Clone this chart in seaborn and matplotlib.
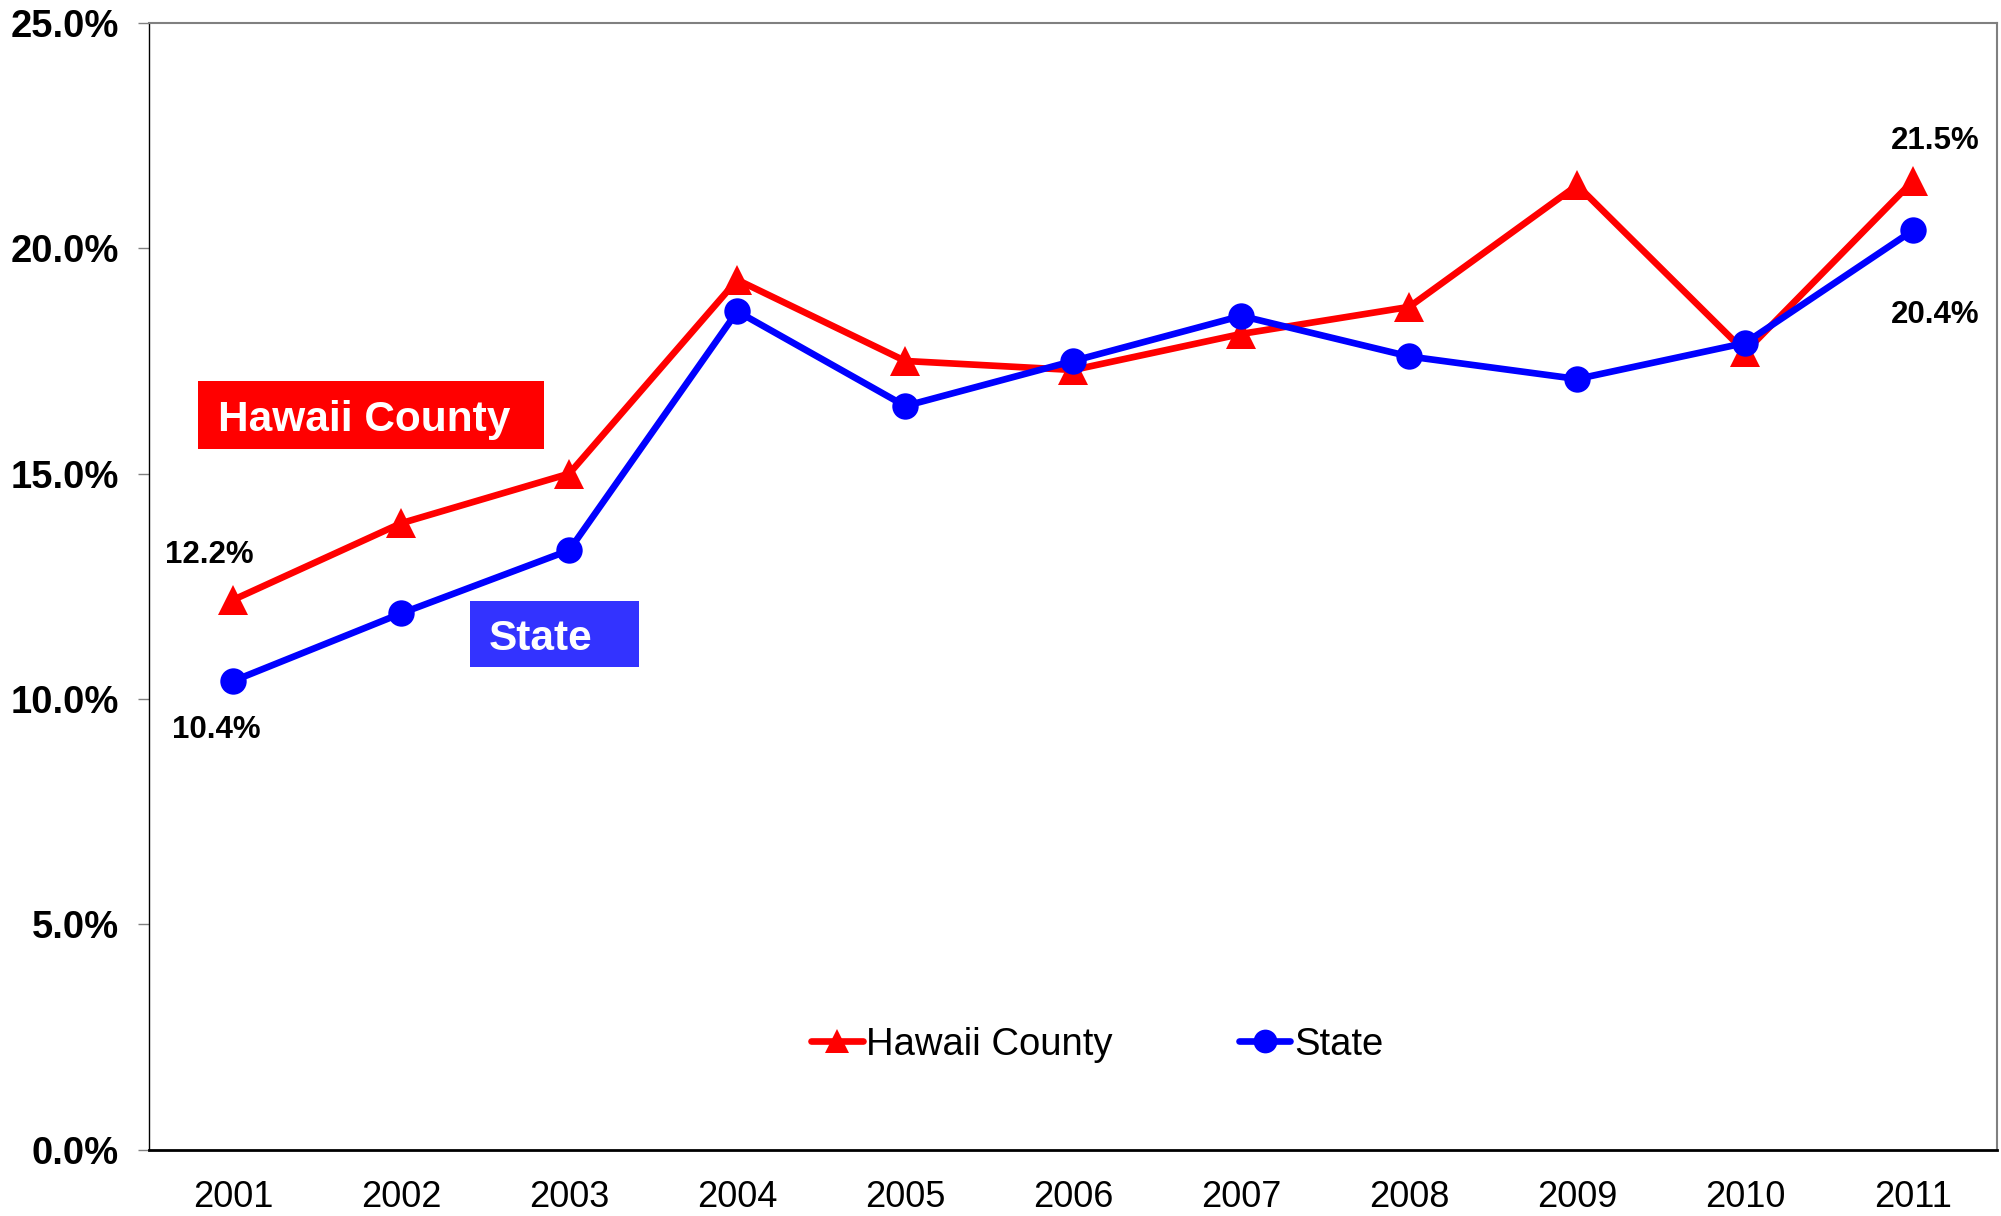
import pandas as pd
import numpy as np
import matplotlib
matplotlib.use('Agg')
import matplotlib.pyplot as plt
import seaborn as sns
from matplotlib.patches import Rectangle

# Chart data (percent)
years = [2001, 2002, 2003, 2004, 2005, 2006, 2007, 2008, 2009, 2010, 2011]
hawaii_county = [12.2, 13.9, 15.0, 19.3, 17.5, 17.3, 18.1, 18.7, 21.4, 17.7, 21.5]
state = [10.4, 11.9, 13.3, 18.6, 16.5, 17.5, 18.5, 17.6, 17.1, 17.9, 20.4]
series_names = ['Hawaii County', 'State']
y_ticks = [0, 5, 10, 15, 20, 25]
y_tick_labels = ['0.0%', '5.0%', '10.0%', '15.0%', '20.0%', '25.0%']

df = pd.DataFrame({
    'year': years * 2,
    'value': hawaii_county + state,
    'series': [series_names[0]] * len(years) + [series_names[1]] * len(years),
})

sns.set_style('white')
plt.rcParams['font.family'] = ['Liberation Sans', 'DejaVu Sans']
plt.rcParams['text.color'] = 'black'
plt.rcParams['xtick.labelcolor'] = 'black'
plt.rcParams['ytick.labelcolor'] = 'black'

fig = plt.figure(figsize=(20.01, 12.16), dpi=100)
ax = fig.add_axes([0.0746, 0.0546, 0.9235, 0.9265])

palette = {'Hawaii County': '#FF0000', 'State': '#0000FF'}
markers = {'Hawaii County': '^', 'State': 'o'}
sns.lineplot(data=df, x='year', y='value', hue='series', style='series',
             hue_order=series_names, style_order=series_names,
             palette=palette, markers=markers, dashes=False,
             linewidth=4.8, markersize=19, markeredgewidth=0, ax=ax)
# triangles a bit bigger than circles
ax.lines[0].set_markersize(21)

ax.set_xlim(2000.5, 2011.5)
ax.set_ylim(0, 25)
ax.set_xlabel('')
ax.set_ylabel('')

# axis ticks
ax.set_xticks(years)
ax.set_xticklabels([str(y) for y in years], fontsize=26)
ax.set_xticks(np.arange(2000.5, 2012, 1), minor=True)
ax.tick_params(axis='x', which='major', length=0, pad=22)
ax.tick_params(axis='x', which='minor', length=9, width=1, color='#808080', direction='out')
ax.set_yticks(y_ticks)
ax.set_yticklabels(y_tick_labels, fontsize=27.5, fontweight='bold')
ax.tick_params(axis='y', length=8, width=1, color='#808080', direction='out', pad=14, left=True)

for side in ['top', 'right']:
    ax.spines[side].set_color('#808080')
    ax.spines[side].set_linewidth(1.5)
ax.spines['left'].set_color('black')
ax.spines['left'].set_linewidth(1)
ax.spines['bottom'].set_color('black')
ax.spines['bottom'].set_linewidth(2)

# end labels
label_style = dict(textcoords='offset points', ha='center', va='center',
                   fontsize=22.5, fontweight='bold', color='black')
ax.annotate(f'{hawaii_county[0]:.1f}%', (years[0], hawaii_county[0]), xytext=(-17, 32), **label_style)
ax.annotate(f'{state[0]:.1f}%', (years[0], state[0]), xytext=(-12, -35), **label_style)
ax.annotate(f'{hawaii_county[-1]:.1f}%', (years[-1], hawaii_county[-1]), xytext=(16, 28.5), **label_style)
ax.annotate(f'{state[-1]:.1f}%', (years[-1], state[-1]), xytext=(16, -61), **label_style)

# series name boxes
ax.add_patch(Rectangle((0.0262, 0.6217), 0.1872, 0.0601, transform=ax.transAxes,
                       facecolor='#FF0000', edgecolor='none', zorder=5))
ax.text(0.0373, 0.6475, 'Hawaii County', transform=ax.transAxes, color='white',
        fontsize=30.5, fontweight='bold', ha='left', va='center', zorder=6)
ax.add_patch(Rectangle((0.1733, 0.428), 0.0919, 0.059, transform=ax.transAxes,
                       facecolor='#3333FF', edgecolor='none', zorder=5))
ax.text(0.1837, 0.4535, 'State', transform=ax.transAxes, color='white',
        fontsize=30.5, fontweight='bold', ha='left', va='center', zorder=6)

# legend
handles, labels = ax.get_legend_handles_labels()
ax.legend(handles, labels, loc='center', bbox_to_anchor=(0.513, 0.093), ncol=2,
          frameon=False, fontsize=27.5, handlelength=1.35, handletextpad=0.1,
          columnspacing=3.3, markerscale=0.9, labelcolor='black')

fig.savefig('out.png', dpi=100)
